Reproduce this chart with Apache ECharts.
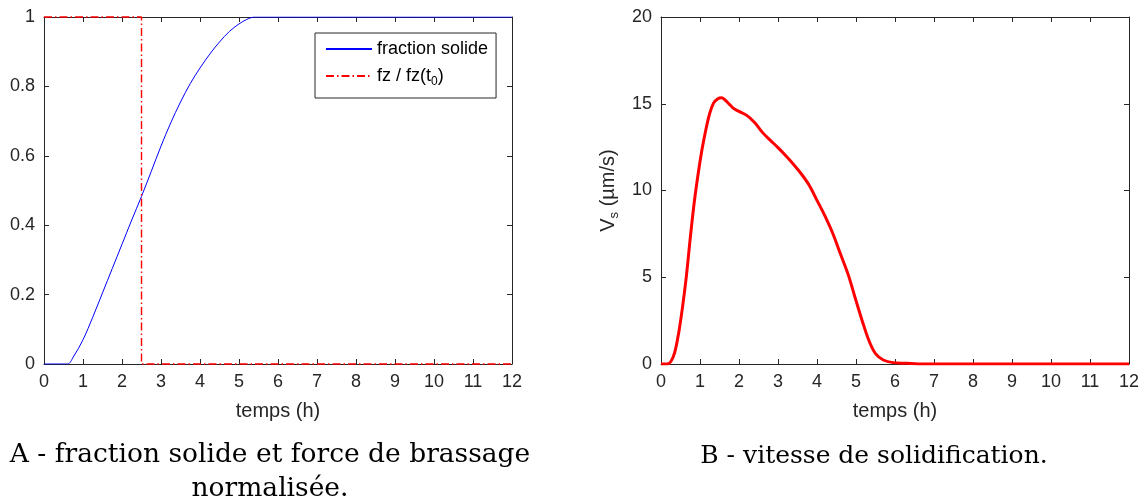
<!DOCTYPE html>
<html>
<head>
<meta charset="utf-8">
<script src="https://cdn.jsdelivr.net/npm/echarts@6/dist/echarts.min.js"></script>
<style>
  html, body { margin: 0; padding: 0; background: #fff; }
  #main { width: 1146px; height: 504px; }
</style>
</head>
<body>
<div id="main"></div>
<script>
// A - fraction solide
var tA = [0, 0.6, 0.75, 1.0, 1.25, 1.5, 1.75, 2.0, 2.25, 2.5, 2.75, 3.0, 3.25, 3.5, 3.75, 4.0, 4.25, 4.5, 4.75, 5.0, 5.2, 5.4, 5.7, 6.0, 12];
var fsA = [0, 0, 0.02, 0.07, 0.135, 0.205, 0.275, 0.345, 0.415, 0.483, 0.555, 0.628, 0.695, 0.755, 0.808, 0.853, 0.893, 0.928, 0.958, 0.98, 0.993, 1.0, 1.0, 1.0, 1.0];
// A - fz / fz(t0)
var tFz = [0, 2.5, 2.5, 12];
var fz = [1, 1, 0, 0];
// B - vitesse de solidification
var tB = [0, 0.15, 0.25, 0.35, 0.45, 0.55, 0.65, 0.75, 0.85, 0.95, 1.05, 1.15, 1.25, 1.35, 1.45, 1.55, 1.65, 1.75, 1.85, 2.0, 2.2, 2.4, 2.6, 2.8, 3.0, 3.2, 3.4, 3.6, 3.8, 4.0, 4.2, 4.4, 4.6, 4.8, 5.0, 5.2, 5.35, 5.5, 5.7, 5.95, 6.3, 6.6, 7.0, 7.5, 12];
var vsB = [0, 0, 0.13, 0.65, 1.75, 3.25, 5.05, 7.25, 9.27, 10.92, 12.35, 13.5, 14.45, 15.05, 15.28, 15.35, 15.2, 14.98, 14.75, 14.56, 14.33, 13.92, 13.35, 12.9, 12.47, 12.0, 11.5, 10.95, 10.3, 9.43, 8.55, 7.55, 6.35, 5.15, 3.65, 2.2, 1.25, 0.6, 0.23, 0.08, 0.04, 0, 0, 0, 0];

var xTicks = [0, 12, 1];
var yTicksA = [0, 1, 0.2];
var yTicksB = [0, 20, 5];

function pairs(xs, ys) {
  return xs.map(function (x, i) { return [x, ys[i]]; });
}

var axisCol = '#262626';
var labelFont = { fontFamily: 'Liberation Sans', fontSize: 18, color: axisCol };

function valAxis(grid, pos, ticks, showLabel, extra) {
  var ax = {
    type: 'value',
    gridIndex: grid,
    position: pos,
    min: ticks[0],
    max: ticks[1],
    interval: ticks[2],
    axisLine: { show: true, onZero: false, lineStyle: { color: axisCol, width: 1 } },
    axisTick: { show: true, inside: true, length: 5, lineStyle: { color: axisCol } },
    axisLabel: Object.assign({ show: showLabel, margin: 9 }, labelFont),
    splitLine: { show: false }
  };
  return Object.assign(ax, extra || {});
}

var nameStyle = { fontFamily: 'Liberation Sans', fontSize: 20, color: axisCol };
var capStyle = { fontFamily: 'DejaVu Serif', fontSize: 26, fontWeight: 'normal', color: '#000', lineHeight: 34 };

var chart = echarts.init(document.getElementById('main'), null, { renderer: 'canvas' });

var option = {
  animation: false,
  backgroundColor: '#fff',
  title: [
    {
      text: 'A - fraction solide et force de brassage\nnormalisée.',
      left: 265, top: 433, textAlign: 'center',
      textStyle: Object.assign({}, capStyle, { fontSize: 26.5 })
    },
    {
      text: 'B - vitesse de solidification.',
      left: 869, top: 434, textAlign: 'center',
      textStyle: Object.assign({}, capStyle, { fontSize: 25 })
    }
  ],
  legend: {
    data: ['fraction solide', 'fz / fz(t0)'],
    orient: 'vertical',
    left: 315, top: 33,
    padding: [7, 8, 10, 10],
    itemGap: 6,
    itemWidth: 46,
    itemHeight: 18,
    borderColor: axisCol,
    borderWidth: 1,
    backgroundColor: '#fff',
    itemStyle: { opacity: 0 },
    formatter: function (name) {
      return name === 'fz / fz(t0)' ? 'fz / fz(t{sub|0})' : name;
    },
    textStyle: {
      fontFamily: 'Liberation Sans', fontSize: 18, color: '#000',
      rich: { sub: { fontFamily: 'Liberation Sans', fontSize: 12, color: '#000', lineHeight: 12, padding: [12, 0, 0, 0] } }
    }
  },
  grid: [
    { left: 44, top: 17, width: 468, height: 347 },
    { left: 661, top: 17, width: 468, height: 347 }
  ],
  xAxis: [
    valAxis(0, 'bottom', xTicks, true, { name: 'temps (h)', nameLocation: 'middle', nameGap: 37, nameTextStyle: nameStyle }),
    valAxis(0, 'top', xTicks, false),
    valAxis(1, 'bottom', xTicks, true, { name: 'temps (h)', nameLocation: 'middle', nameGap: 37, nameTextStyle: nameStyle }),
    valAxis(1, 'top', xTicks, false)
  ],
  yAxis: [
    valAxis(0, 'left', yTicksA, true),
    valAxis(0, 'right', yTicksA, false),
    valAxis(1, 'left', yTicksB, true, {
      name: 'V{s|s} (µm/s)', nameLocation: 'middle', nameGap: 43, nameRotate: 90,
      nameTextStyle: Object.assign({}, nameStyle, {
        rich: { s: { fontFamily: 'Liberation Sans', fontSize: 13, color: axisCol, lineHeight: 13, padding: [13, 0, 0, 0] } }
      })
    }),
    valAxis(1, 'right', yTicksB, false)
  ],
  series: [
    {
      name: 'fraction solide', type: 'line', xAxisIndex: 0, yAxisIndex: 0,
      data: pairs(tA, fsA), smooth: 0.35, symbol: 'none',
      lineStyle: { color: '#0000ff', width: 1 }, itemStyle: { color: '#0000ff' }
    },
    {
      name: 'fz / fz(t0)', type: 'line', xAxisIndex: 0, yAxisIndex: 0,
      data: pairs(tFz, fz), symbol: 'none', clip: false,
      lineStyle: { color: '#ff0000', width: 1.4, type: [8, 3, 1.5, 3] }, itemStyle: { color: '#ff0000' }
    },
    {
      name: 'Vs', type: 'line', xAxisIndex: 2, yAxisIndex: 2,
      data: pairs(tB, vsB), smooth: 0.35, symbol: 'none',
      lineStyle: { color: '#ff0000', width: 3 }, itemStyle: { color: '#ff0000' }
    }
  ]
};

chart.setOption(option);

window.addEventListener('resize', function () {
  chart.resize();
});
</script>
</body>
</html>
